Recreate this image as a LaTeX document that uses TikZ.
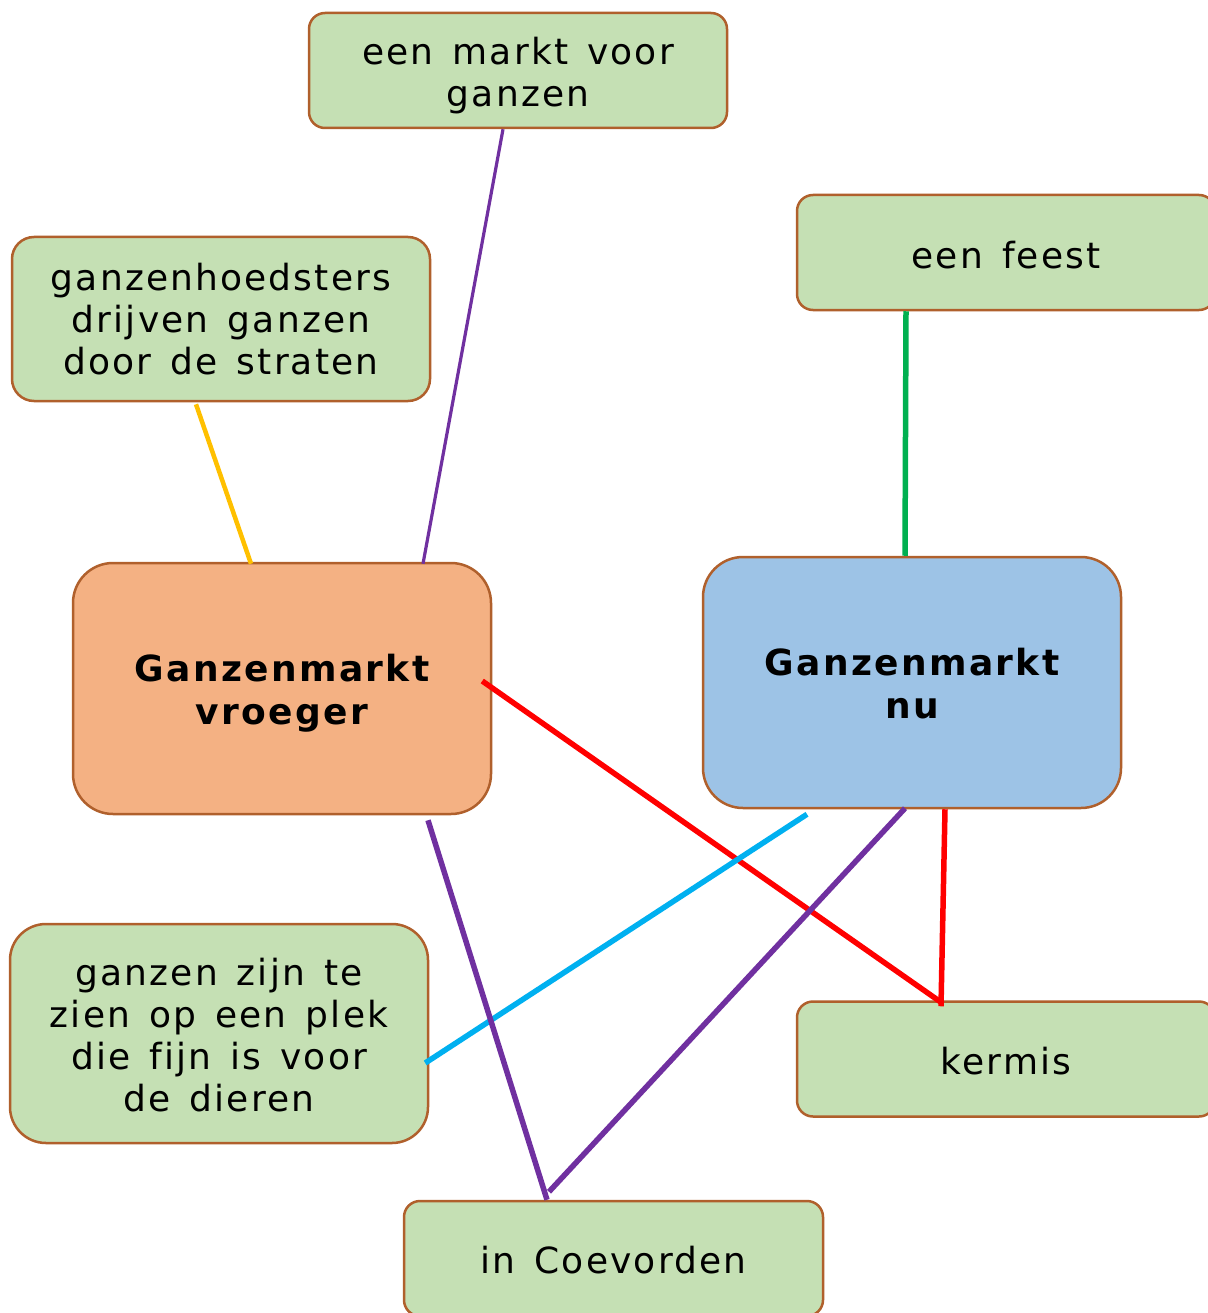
\documentclass[tikz,border=0pt]{standalone}
\usepackage{fontspec}
\setmainfont[LetterSpace=6, WordSpace=1.4, Ligatures=NoCommon]{DejaVu Sans}
\newfontfamily\boldls[LetterSpace=6.5, WordSpace=1.4, Ligatures=NoCommon]{DejaVu Sans Bold}
\usetikzlibrary{calc}
\definecolor{boxgreen}{HTML}{C5E0B4}
\definecolor{boxorange}{HTML}{F4B183}
\definecolor{boxblue}{HTML}{9DC3E6}
\definecolor{boxborder}{HTML}{B0602C}
\definecolor{lyellow}{HTML}{FFC000}
\definecolor{lpurple}{HTML}{7030A0}
\definecolor{lgreen}{HTML}{00B050}
\definecolor{lred}{HTML}{FF0000}
\definecolor{lcyan}{HTML}{00B0F0}
\begin{document}
\begin{tikzpicture}[x=1pt,y=-1pt,
  smallbox/.style={draw=boxborder, line width=2.5pt, fill=boxgreen, rounded corners=16pt,
    minimum width=418pt, minimum height=115pt, inner sep=0pt, align=center,
    font=\fontsize{36}{42}\selectfont},
  bigbox/.style={draw=boxborder, line width=2.5pt, rounded corners=40pt,
    minimum width=418pt, minimum height=251pt, inner sep=0pt, align=center,
    font=\fontsize{36}{43}\selectfont\boldls},
  link/.style={line width=5.5pt}]
\useasboundingbox (0,0) rectangle (1207,1313);
\fill[white] (0,0) rectangle (1207,1313);

\node[smallbox] (markt) at (518,70.5) {};
\node at ([yshift=-5pt]markt.center) [align=center, font=\fontsize{36}{42}\selectfont] (markttxt) {een markt voor\\ganzen};
\node[smallbox, minimum height=164pt, rounded corners=22pt] (hoed) at (221,319) {ganzenhoedsters\\drijven ganzen\\door de straten};
\node[smallbox] (feest) at (1006,252.5) {};
\node at ([yshift=-3pt]feest.center) [font=\fontsize{36}{42}\selectfont] (feesttxt) {een feest};
\node[bigbox, fill=boxorange] (vroeger) at (282,688.5) {};
\node at ([yshift=-5pt]vroeger.center) [align=center, font=\fontsize{36}{43}\selectfont\boldls] (vroegertxt) {Ganzenmarkt\\vroeger};
\node[bigbox, fill=boxblue] (nu) at (912,682.5) {};
\node at ([yshift=-1pt]nu.center) [align=center, font=\fontsize{36}{43}\selectfont\boldls] (nutxt) {Ganzenmarkt\\nu};
\node[smallbox, minimum height=219pt, rounded corners=36pt] (zien) at (219,1033.5) {};
\node at ([yshift=-2pt]zien.center) [align=center, font=\fontsize{36}{42}\selectfont] (zientxt) {ganzen zijn te\\zien op een plek\\die fijn is voor\\de dieren};
\node[smallbox] (kermis) at (1006,1059) {};
\node at ([yshift=-2pt]kermis.center) [font=\fontsize{36}{42}\selectfont] (kermistxt) {kermis};
\node[smallbox, minimum width=419pt] (coev) at (613.5,1258.5) {};
\node at ([yshift=-2pt]coev.center) [font=\fontsize{36}{42}\selectfont] (coevtxt) {in Coevorden};

\draw[link, line width=4.5pt, lyellow] ([xshift=-25pt,yshift=-2pt]hoed.south) -- ([xshift=-31pt,yshift=-2pt]vroeger.north);
\draw[link, line width=3.2pt, lpurple] ([xshift=-15pt]markt.south) -- ([xshift=141pt,yshift=-2pt]vroeger.north);
\draw[link, lgreen] ([xshift=-100pt]feest.south) -- ([xshift=-7pt]nu.north);
\draw[link, lred] ([xshift=-10pt,yshift=7.5pt]vroeger.east) -- ([xshift=-65pt,yshift=-2pt]kermis.north);
\draw[link, lred] ([xshift=33pt]nu.south) -- ([xshift=-65pt,yshift=-6pt]kermis.north);
\draw[link, lcyan] ([xshift=-105pt,yshift=-5pt]nu.south) -- ([xshift=-4pt,yshift=-29.5pt]zien.east);
\draw[link, lpurple] ([xshift=-7pt,yshift=1pt]nu.south) -- ([xshift=-64.5pt,yshift=8pt]coev.north);
\draw[link, lpurple] ([xshift=146pt,yshift=-5pt]vroeger.south) -- ([xshift=-66.5pt]coev.north);
\end{tikzpicture}
\end{document}
